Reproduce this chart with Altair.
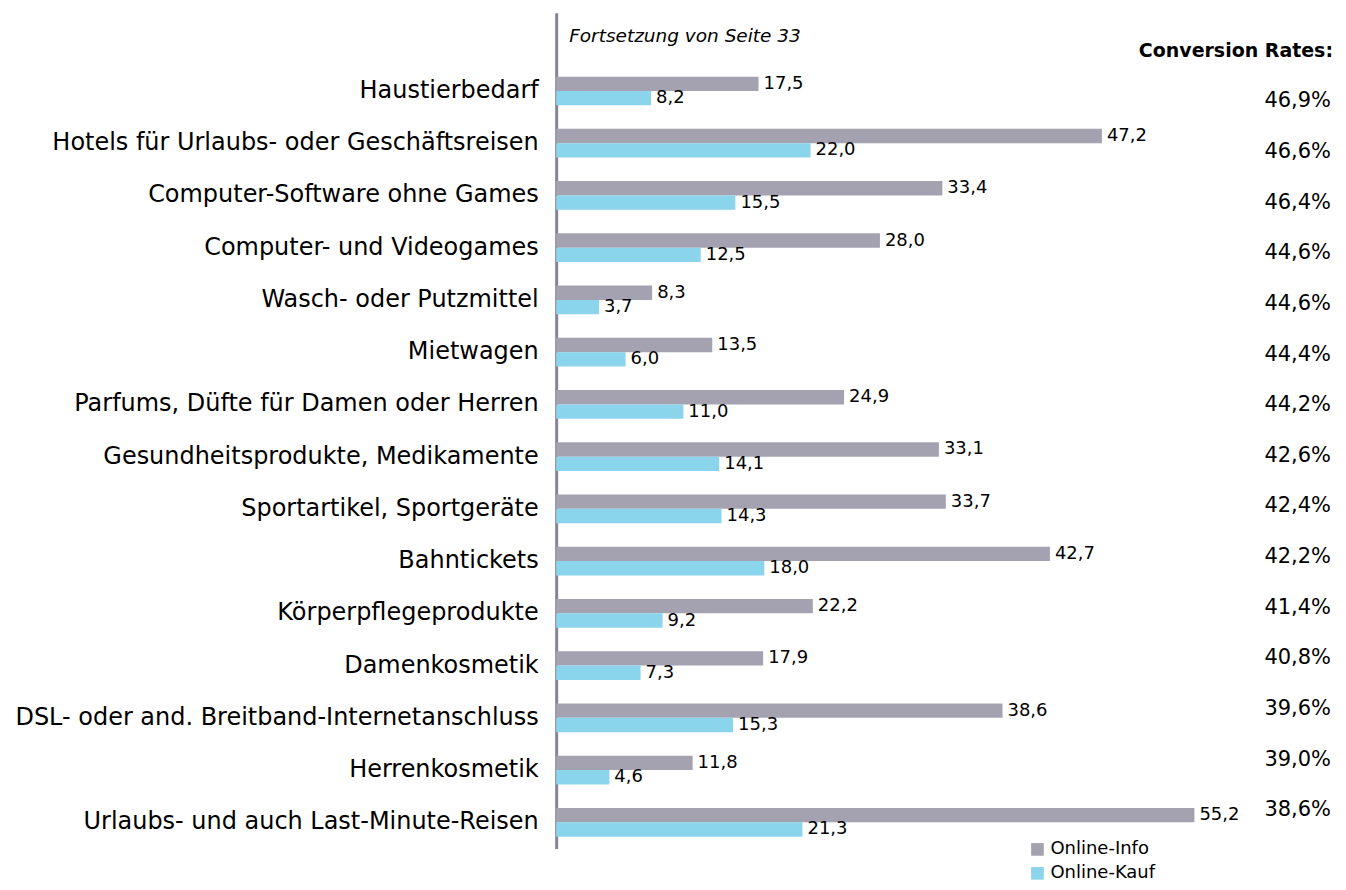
import altair as alt
import pandas as pd

categories = [
    "Haustierbedarf",
    "Hotels für Urlaubs- oder Geschäftsreisen",
    "Computer-Software ohne Games",
    "Computer- und Videogames",
    "Wasch- oder Putzmittel",
    "Mietwagen",
    "Parfums, Düfte für Damen oder Herren",
    "Gesundheitsprodukte, Medikamente",
    "Sportartikel, Sportgeräte",
    "Bahntickets",
    "Körperpflegeprodukte",
    "Damenkosmetik",
    "DSL- oder and. Breitband-Internetanschluss",
    "Herrenkosmetik",
    "Urlaubs- und auch Last-Minute-Reisen",
]
online_info = [17.5, 47.2, 33.4, 28.0, 8.3, 13.5, 24.9, 33.1, 33.7, 42.7, 22.2, 17.9, 38.6, 11.8, 55.2]
online_kauf = [8.2, 22.0, 15.5, 12.5, 3.7, 6.0, 11.0, 14.1, 14.3, 18.0, 9.2, 7.3, 15.3, 4.6, 21.3]
conversion = ["46,9%", "46,6%", "46,4%", "44,6%", "44,6%", "44,4%", "44,2%", "42,6%",
              "42,4%", "42,2%", "41,4%", "40,8%", "39,6%", "39,0%", "38,6%"]
series = ["Online-Info", "Online-Kauf"]
colors = ["#a4a2b0", "#8ad4ec"]
note = "Fortsetzung von Seite 33"
conv_title = "Conversion Rates:"

FONT = "DejaVu Sans"
W = 783
H = 837
XMAX = W / 11.58

rows = []
for c, a, b in zip(categories, online_info, online_kauf):
    rows.append({"cat": c, "series": series[0], "value": a, "label": f"{a:.1f}".replace(".", ",")})
    rows.append({"cat": c, "series": series[1], "value": b, "label": f"{b:.1f}".replace(".", ",")})
df = pd.DataFrame(rows)

blank = " "
ydom = [blank] + categories
yscale = alt.Scale(domain=ydom, paddingInner=0.45, paddingOuter=0.225)

y_enc = alt.Y("cat:N", scale=yscale, sort=None, title=None,
              axis=alt.Axis(domain=True, domainColor="#85839a", domainWidth=3,
                            ticks=False, grid=False, labelFontSize=24,
                            labelFont=FONT, labelColor="#000000", labelPadding=18,
                            labelLimit=600))
x_enc = alt.X("value:Q", scale=alt.Scale(domain=[0, XMAX], nice=False, zero=True),
              axis=None)

bars = alt.Chart(df).mark_bar(cornerRadius=0).encode(
    y=y_enc,
    x=x_enc,
    yOffset=alt.YOffset("series:N", scale=alt.Scale(domain=series)),
    color=alt.Color("series:N", scale=alt.Scale(domain=series, range=colors),
                    legend=alt.Legend(title=None, orient="none", legendX=473, legendY=829,
                                      symbolType="square", symbolSize=160,
                                      symbolStrokeWidth=0, labelFontSize=18,
                                      labelFont=FONT, rowPadding=6,
                                      symbolOffset=0, labelOffset=4)),
)

labels = alt.Chart(df).mark_text(align="left", baseline="middle", dx=5,
                                 fontSize=18, font=FONT, color="#000000").encode(
    y=alt.Y("cat:N", scale=yscale, sort=None, title=None),
    x=x_enc,
    yOffset=alt.YOffset("series:N", scale=alt.Scale(domain=series)),
    text="label:N",
)

note_df = pd.DataFrame({"cat": [blank], "text": [note]})
note_layer = alt.Chart(note_df).mark_text(align="left", baseline="middle", dy=-3,
                                          fontSize=18.5, fontStyle="italic", font=FONT,
                                          color="#000000").encode(
    y=alt.Y("cat:N", scale=yscale, sort=None, title=None),
    x=alt.value(13),
    text="text:N",
)

main = alt.layer(bars, labels, note_layer)

cdom = [conv_title] + categories
cscale = alt.Scale(type="point", domain=cdom, padding=0.75)
conv_df = pd.DataFrame({"crow": categories, "ctext": conversion})
head_df = pd.DataFrame({"crow": [conv_title], "ctext": [conv_title]})

conv_vals = alt.Chart(conv_df).mark_text(align="right", baseline="middle",
                                         fontSize=21, font=FONT, color="#000000").encode(
    y=alt.Y("crow:N", scale=cscale, sort=None, axis=None, title=None),
    x=alt.value(W - 7),
    text="ctext:N",
)
conv_head = alt.Chart(head_df).mark_text(align="right", baseline="middle",
                                         fontSize=19, fontWeight="bold", font=FONT,
                                         color="#000000").encode(
    y=alt.Y("crow:N", scale=cscale, sort=None, axis=None, title=None),
    x=alt.value(W - 5),
    text="ctext:N",
)
conv_layer = alt.layer(conv_vals, conv_head)

chart = alt.layer(main, conv_layer).resolve_scale(y="independent").properties(
    width=W, height=H,
    autosize=alt.AutoSizeParams(type="none"),
    padding={"left": 549, "top": 4, "right": 0, "bottom": 34},
).configure(background="#ffffff").configure_view(stroke=None)

chart.save("out.html", embed_options={"renderer": "svg", "actions": False})
